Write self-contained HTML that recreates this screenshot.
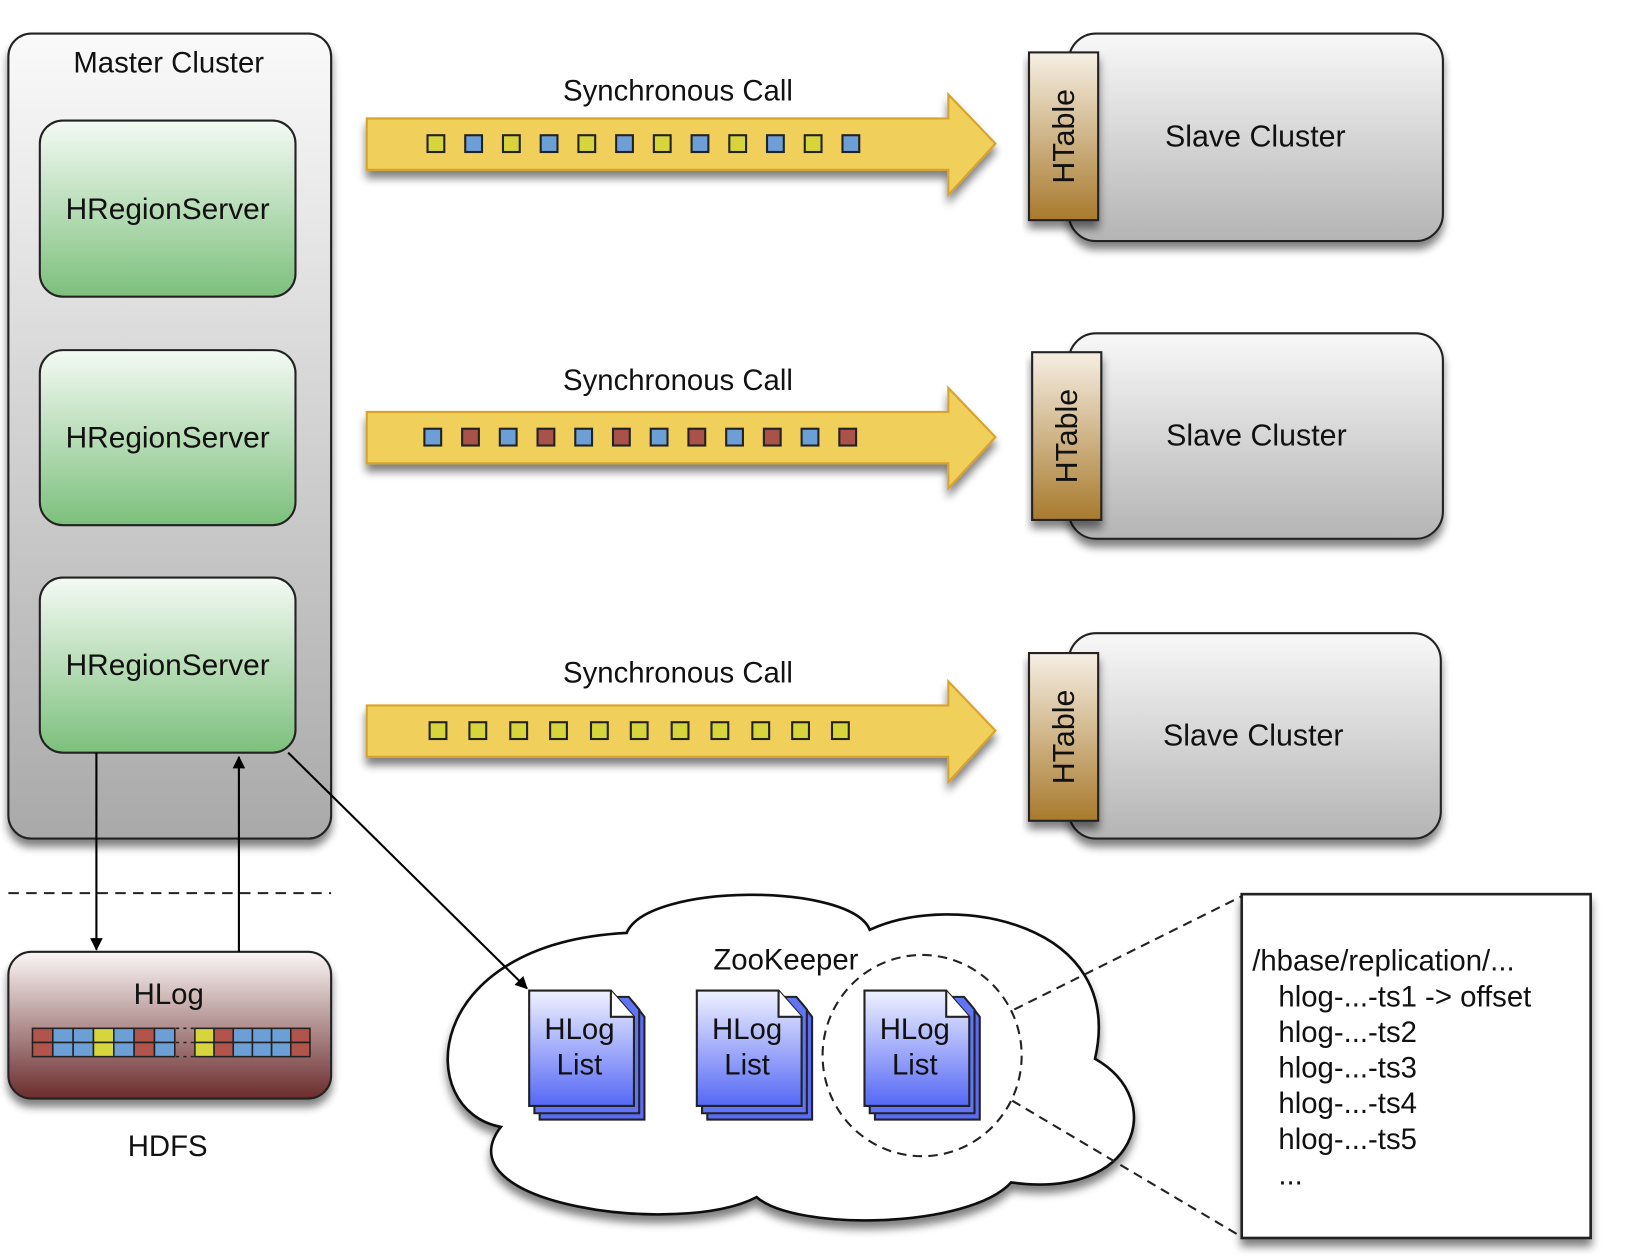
<!DOCTYPE html>
<html><head><meta charset="utf-8"><style>
html,body{margin:0;padding:0;background:#fff;}
svg{display:block;}
text{font-family:"Liberation Sans",sans-serif;fill:#111;}
</style></head><body>
<svg width="1642" height="1260" viewBox="0 0 1567 1202" preserveAspectRatio="none" xmlns="http://www.w3.org/2000/svg">
<defs>
<linearGradient id="gray" x1="0" y1="0" x2="0" y2="1"><stop offset="0" stop-color="#fafafa"/><stop offset="1" stop-color="#a9a9a9"/></linearGradient>
<linearGradient id="slave" x1="0" y1="0" x2="0" y2="1"><stop offset="0" stop-color="#f8f8f8"/><stop offset="1" stop-color="#b4b4b4"/></linearGradient>
<linearGradient id="green" x1="0" y1="0" x2="0" y2="1"><stop offset="0" stop-color="#f4faf4"/><stop offset="1" stop-color="#7cc07c"/></linearGradient>
<linearGradient id="brown" x1="0" y1="0" x2="0" y2="1"><stop offset="0" stop-color="#f6efe4"/><stop offset="1" stop-color="#a87a2c"/></linearGradient>
<linearGradient id="hlog" x1="0" y1="0" x2="0" y2="1"><stop offset="0" stop-color="#fbf7f7"/><stop offset="1" stop-color="#6b2c2c"/></linearGradient>
<linearGradient id="doc" x1="0" y1="0" x2="0" y2="1"><stop offset="0" stop-color="#f0f2ff"/><stop offset="1" stop-color="#5568f5"/></linearGradient>
<filter id="sh" x="-10%" y="-10%" width="130%" height="130%"><feGaussianBlur in="SourceAlpha" stdDeviation="4"/><feOffset dx="0" dy="7"/><feComponentTransfer><feFuncA type="linear" slope="0.5"/></feComponentTransfer><feMerge><feMergeNode/><feMergeNode in="SourceGraphic"/></feMerge></filter>
<marker id="ah" markerWidth="12" markerHeight="12" refX="11" refY="6" orient="auto" markerUnits="userSpaceOnUse"><path d="M0,0 L12,6 L0,12 Z" fill="#000"/></marker>
<g id="arrowbody"><path d="M350,113 L905,113 L905,90 L950,137 L905,186 L905,162 L350,162 Z" fill="#f0cf5a" stroke="#d9a22a" stroke-width="2" filter="url(#sh)"/></g>
</defs>

<rect x="8" y="32" width="308" height="768" rx="22" fill="url(#gray)" stroke="#222" stroke-width="2" filter="url(#sh)"/>
<text x="161" y="69" font-size="28" text-anchor="middle">Master Cluster</text>
<g stroke="#222" stroke-width="2" fill="url(#green)">
<rect x="38" y="115" width="244" height="168" rx="22"/>
<rect x="38" y="334" width="244" height="167" rx="22"/>
<rect x="38" y="551" width="244" height="167" rx="22"/>
</g>
<g font-size="28.5" text-anchor="middle">
<text x="160" y="209">HRegionServer</text>
<text x="160" y="427">HRegionServer</text>
<text x="160" y="644">HRegionServer</text>
</g>

<g font-size="28" text-anchor="middle">
<text x="647" y="96">Synchronous Call</text>
<text x="647" y="372">Synchronous Call</text>
<text x="647" y="651">Synchronous Call</text>
</g>
<use href="#arrowbody"/>
<use href="#arrowbody" y="280"/>
<use href="#arrowbody" y="560"/>
<g stroke="#222" stroke-width="2">
<rect x="408" y="129" width="16" height="16" fill="#d6d63c"/><rect x="444" y="129" width="16" height="16" fill="#6c9fd6"/>
<rect x="480" y="129" width="16" height="16" fill="#d6d63c"/><rect x="516" y="129" width="16" height="16" fill="#6c9fd6"/>
<rect x="552" y="129" width="16" height="16" fill="#d6d63c"/><rect x="588" y="129" width="16" height="16" fill="#6c9fd6"/>
<rect x="624" y="129" width="16" height="16" fill="#d6d63c"/><rect x="660" y="129" width="16" height="16" fill="#6c9fd6"/>
<rect x="696" y="129" width="16" height="16" fill="#d6d63c"/><rect x="732" y="129" width="16" height="16" fill="#6c9fd6"/>
<rect x="768" y="129" width="16" height="16" fill="#d6d63c"/><rect x="804" y="129" width="16" height="16" fill="#6c9fd6"/>

<rect x="405" y="409" width="16" height="16" fill="#6c9fd6"/><rect x="441" y="409" width="16" height="16" fill="#a8524a"/>
<rect x="477" y="409" width="16" height="16" fill="#6c9fd6"/><rect x="513" y="409" width="16" height="16" fill="#a8524a"/>
<rect x="549" y="409" width="16" height="16" fill="#6c9fd6"/><rect x="585" y="409" width="16" height="16" fill="#a8524a"/>
<rect x="621" y="409" width="16" height="16" fill="#6c9fd6"/><rect x="657" y="409" width="16" height="16" fill="#a8524a"/>
<rect x="693" y="409" width="16" height="16" fill="#6c9fd6"/><rect x="729" y="409" width="16" height="16" fill="#a8524a"/>
<rect x="765" y="409" width="16" height="16" fill="#6c9fd6"/><rect x="801" y="409" width="16" height="16" fill="#a8524a"/>

<g fill="#d6d63c">
<rect x="410" y="689" width="16" height="16"/><rect x="448" y="689" width="16" height="16"/>
<rect x="487" y="689" width="16" height="16"/><rect x="525" y="689" width="16" height="16"/>
<rect x="564" y="689" width="16" height="16"/><rect x="602" y="689" width="16" height="16"/>
<rect x="641" y="689" width="16" height="16"/><rect x="679" y="689" width="16" height="16"/>
<rect x="718" y="689" width="16" height="16"/><rect x="756" y="689" width="16" height="16"/>
<rect x="794" y="689" width="16" height="16"/>
</g>
</g>

<g stroke="#222" stroke-width="2">
<rect x="1020" y="32" width="357" height="198" rx="26" fill="url(#slave)" filter="url(#sh)"/>
<rect x="982" y="50" width="66" height="160" fill="url(#brown)" filter="url(#sh)"/>
<rect x="1020" y="318" width="357" height="196" rx="26" fill="url(#slave)" filter="url(#sh)"/>
<rect x="985" y="336" width="66" height="160" fill="url(#brown)" filter="url(#sh)"/>
<rect x="1020" y="604" width="355" height="196" rx="26" fill="url(#slave)" filter="url(#sh)"/>
<rect x="982" y="623" width="66" height="160" fill="url(#brown)" filter="url(#sh)"/>
</g>
<g font-size="29" text-anchor="middle">
<text x="1198" y="140">Slave Cluster</text>
<text x="1199" y="425">Slave Cluster</text>
<text x="1196" y="711">Slave Cluster</text>
<text transform="translate(1025,130) rotate(-90)">HTable</text>
<text transform="translate(1028,416) rotate(-90)">HTable</text>
<text transform="translate(1025,703) rotate(-90)">HTable</text>
</g>

<line x1="8" y1="852" x2="316" y2="852" stroke="#222" stroke-width="2" stroke-dasharray="10,7"/>

<rect x="8" y="908" width="308" height="140" rx="22" fill="url(#hlog)" stroke="#222" stroke-width="2" filter="url(#sh)"/>
<text x="161" y="958" font-size="28" text-anchor="middle">HLog</text>
<g stroke="#222" stroke-width="1.5">
<rect x="31" y="981" width="19.4" height="13.5" fill="#b0544c"/><rect x="50.4" y="981" width="19.4" height="13.5" fill="#6c9fd6"/><rect x="69.8" y="981" width="19.4" height="13.5" fill="#6c9fd6"/><rect x="89.2" y="981" width="19.4" height="13.5" fill="#d6d63c"/><rect x="108.6" y="981" width="19.4" height="13.5" fill="#6c9fd6"/><rect x="128" y="981" width="19.4" height="13.5" fill="#b0544c"/><rect x="147.4" y="981" width="19.4" height="13.5" fill="#6c9fd6"/>
<rect x="31" y="994.5" width="19.4" height="13.5" fill="#b0544c"/><rect x="50.4" y="994.5" width="19.4" height="13.5" fill="#6c9fd6"/><rect x="69.8" y="994.5" width="19.4" height="13.5" fill="#6c9fd6"/><rect x="89.2" y="994.5" width="19.4" height="13.5" fill="#d6d63c"/><rect x="108.6" y="994.5" width="19.4" height="13.5" fill="#6c9fd6"/><rect x="128" y="994.5" width="19.4" height="13.5" fill="#b0544c"/><rect x="147.4" y="994.5" width="19.4" height="13.5" fill="#6c9fd6"/>
<rect x="186" y="981" width="18.3" height="13.5" fill="#d6d63c"/><rect x="204.3" y="981" width="18.3" height="13.5" fill="#b0544c"/><rect x="222.6" y="981" width="18.3" height="13.5" fill="#6c9fd6"/><rect x="240.9" y="981" width="18.3" height="13.5" fill="#6c9fd6"/><rect x="259.2" y="981" width="18.3" height="13.5" fill="#6c9fd6"/><rect x="277.5" y="981" width="18.3" height="13.5" fill="#b0544c"/>
<rect x="186" y="994.5" width="18.3" height="13.5" fill="#d6d63c"/><rect x="204.3" y="994.5" width="18.3" height="13.5" fill="#b0544c"/><rect x="222.6" y="994.5" width="18.3" height="13.5" fill="#6c9fd6"/><rect x="240.9" y="994.5" width="18.3" height="13.5" fill="#6c9fd6"/><rect x="259.2" y="994.5" width="18.3" height="13.5" fill="#6c9fd6"/><rect x="277.5" y="994.5" width="18.3" height="13.5" fill="#b0544c"/>
</g>
<line x1="168" y1="994.5" x2="186" y2="994.5" stroke="#222" stroke-width="1.5" stroke-dasharray="3,4"/>
<line x1="168" y1="981" x2="186" y2="981" stroke="#222" stroke-width="1.5" stroke-dasharray="3,4"/>
<line x1="168" y1="1008" x2="186" y2="1008" stroke="#222" stroke-width="1.5" stroke-dasharray="3,4"/>
<text x="160" y="1103" font-size="28" text-anchor="middle">HDFS</text>

<g stroke="#000" stroke-width="2" fill="none">
<line x1="92" y1="718" x2="92" y2="906" marker-end="url(#ah)"/>
<line x1="228" y1="908" x2="228" y2="722" marker-end="url(#ah)"/>
</g>

<path d="M478,1075 C395,1060 400,900 598,890 C618,842 812,842 830,887 C910,850 1075,880 1045,1010 C1115,1050 1085,1145 965,1128 C925,1172 760,1175 722,1142 C650,1180 420,1150 478,1075 Z" fill="#fff" stroke="#111" stroke-width="2.5" filter="url(#sh)"/>
<line x1="275" y1="718" x2="503" y2="943" stroke="#000" stroke-width="2" marker-end="url(#ah)"/>
<text x="750" y="925" font-size="28" text-anchor="middle">ZooKeeper</text>

<g id="doc1" stroke="#222" stroke-width="2">
<path d="M515,957 L605,957 L615,970 L615,1068 L515,1068 Z" fill="#5a6cf5"/>
<path d="M510,951 L600,951 L610,963 L610,1062 L510,1062 Z" fill="#6274f6"/>
<path d="M505,945 L583,945 L605,970 L605,1055 L505,1055 Z" fill="url(#doc)"/>
<path d="M583,945 L583,970 L605,970" fill="#fff"/>
</g>
<use href="#doc1" x="160"/>
<use href="#doc1" x="320"/>
<g font-size="28" text-anchor="middle">
<text x="553" y="991">HLog</text><text x="553" y="1025">List</text>
<text x="713" y="991">HLog</text><text x="713" y="1025">List</text>
<text x="873" y="991">HLog</text><text x="873" y="1025">List</text>
</g>
<ellipse cx="880" cy="1007" rx="95" ry="96" fill="none" stroke="#222" stroke-width="2" stroke-dasharray="9,6"/>
<line x1="968" y1="963" x2="1185" y2="855" stroke="#222" stroke-width="2" stroke-dasharray="9,6"/>
<line x1="966" y1="1050" x2="1185" y2="1180" stroke="#222" stroke-width="2" stroke-dasharray="9,6"/>

<rect x="1185" y="853" width="333" height="328" fill="#fff" stroke="#222" stroke-width="2.5" filter="url(#sh)"/>
<g font-size="28">
<text x="1195" y="926">/hbase/replication/...</text>
<text x="1220" y="960">hlog-...-ts1 -&gt; offset</text>
<text x="1220" y="994">hlog-...-ts2</text>
<text x="1220" y="1028">hlog-...-ts3</text>
<text x="1220" y="1062">hlog-...-ts4</text>
<text x="1220" y="1096">hlog-...-ts5</text>
<text x="1220" y="1130">...</text>
</g>
</svg>
</body></html>
